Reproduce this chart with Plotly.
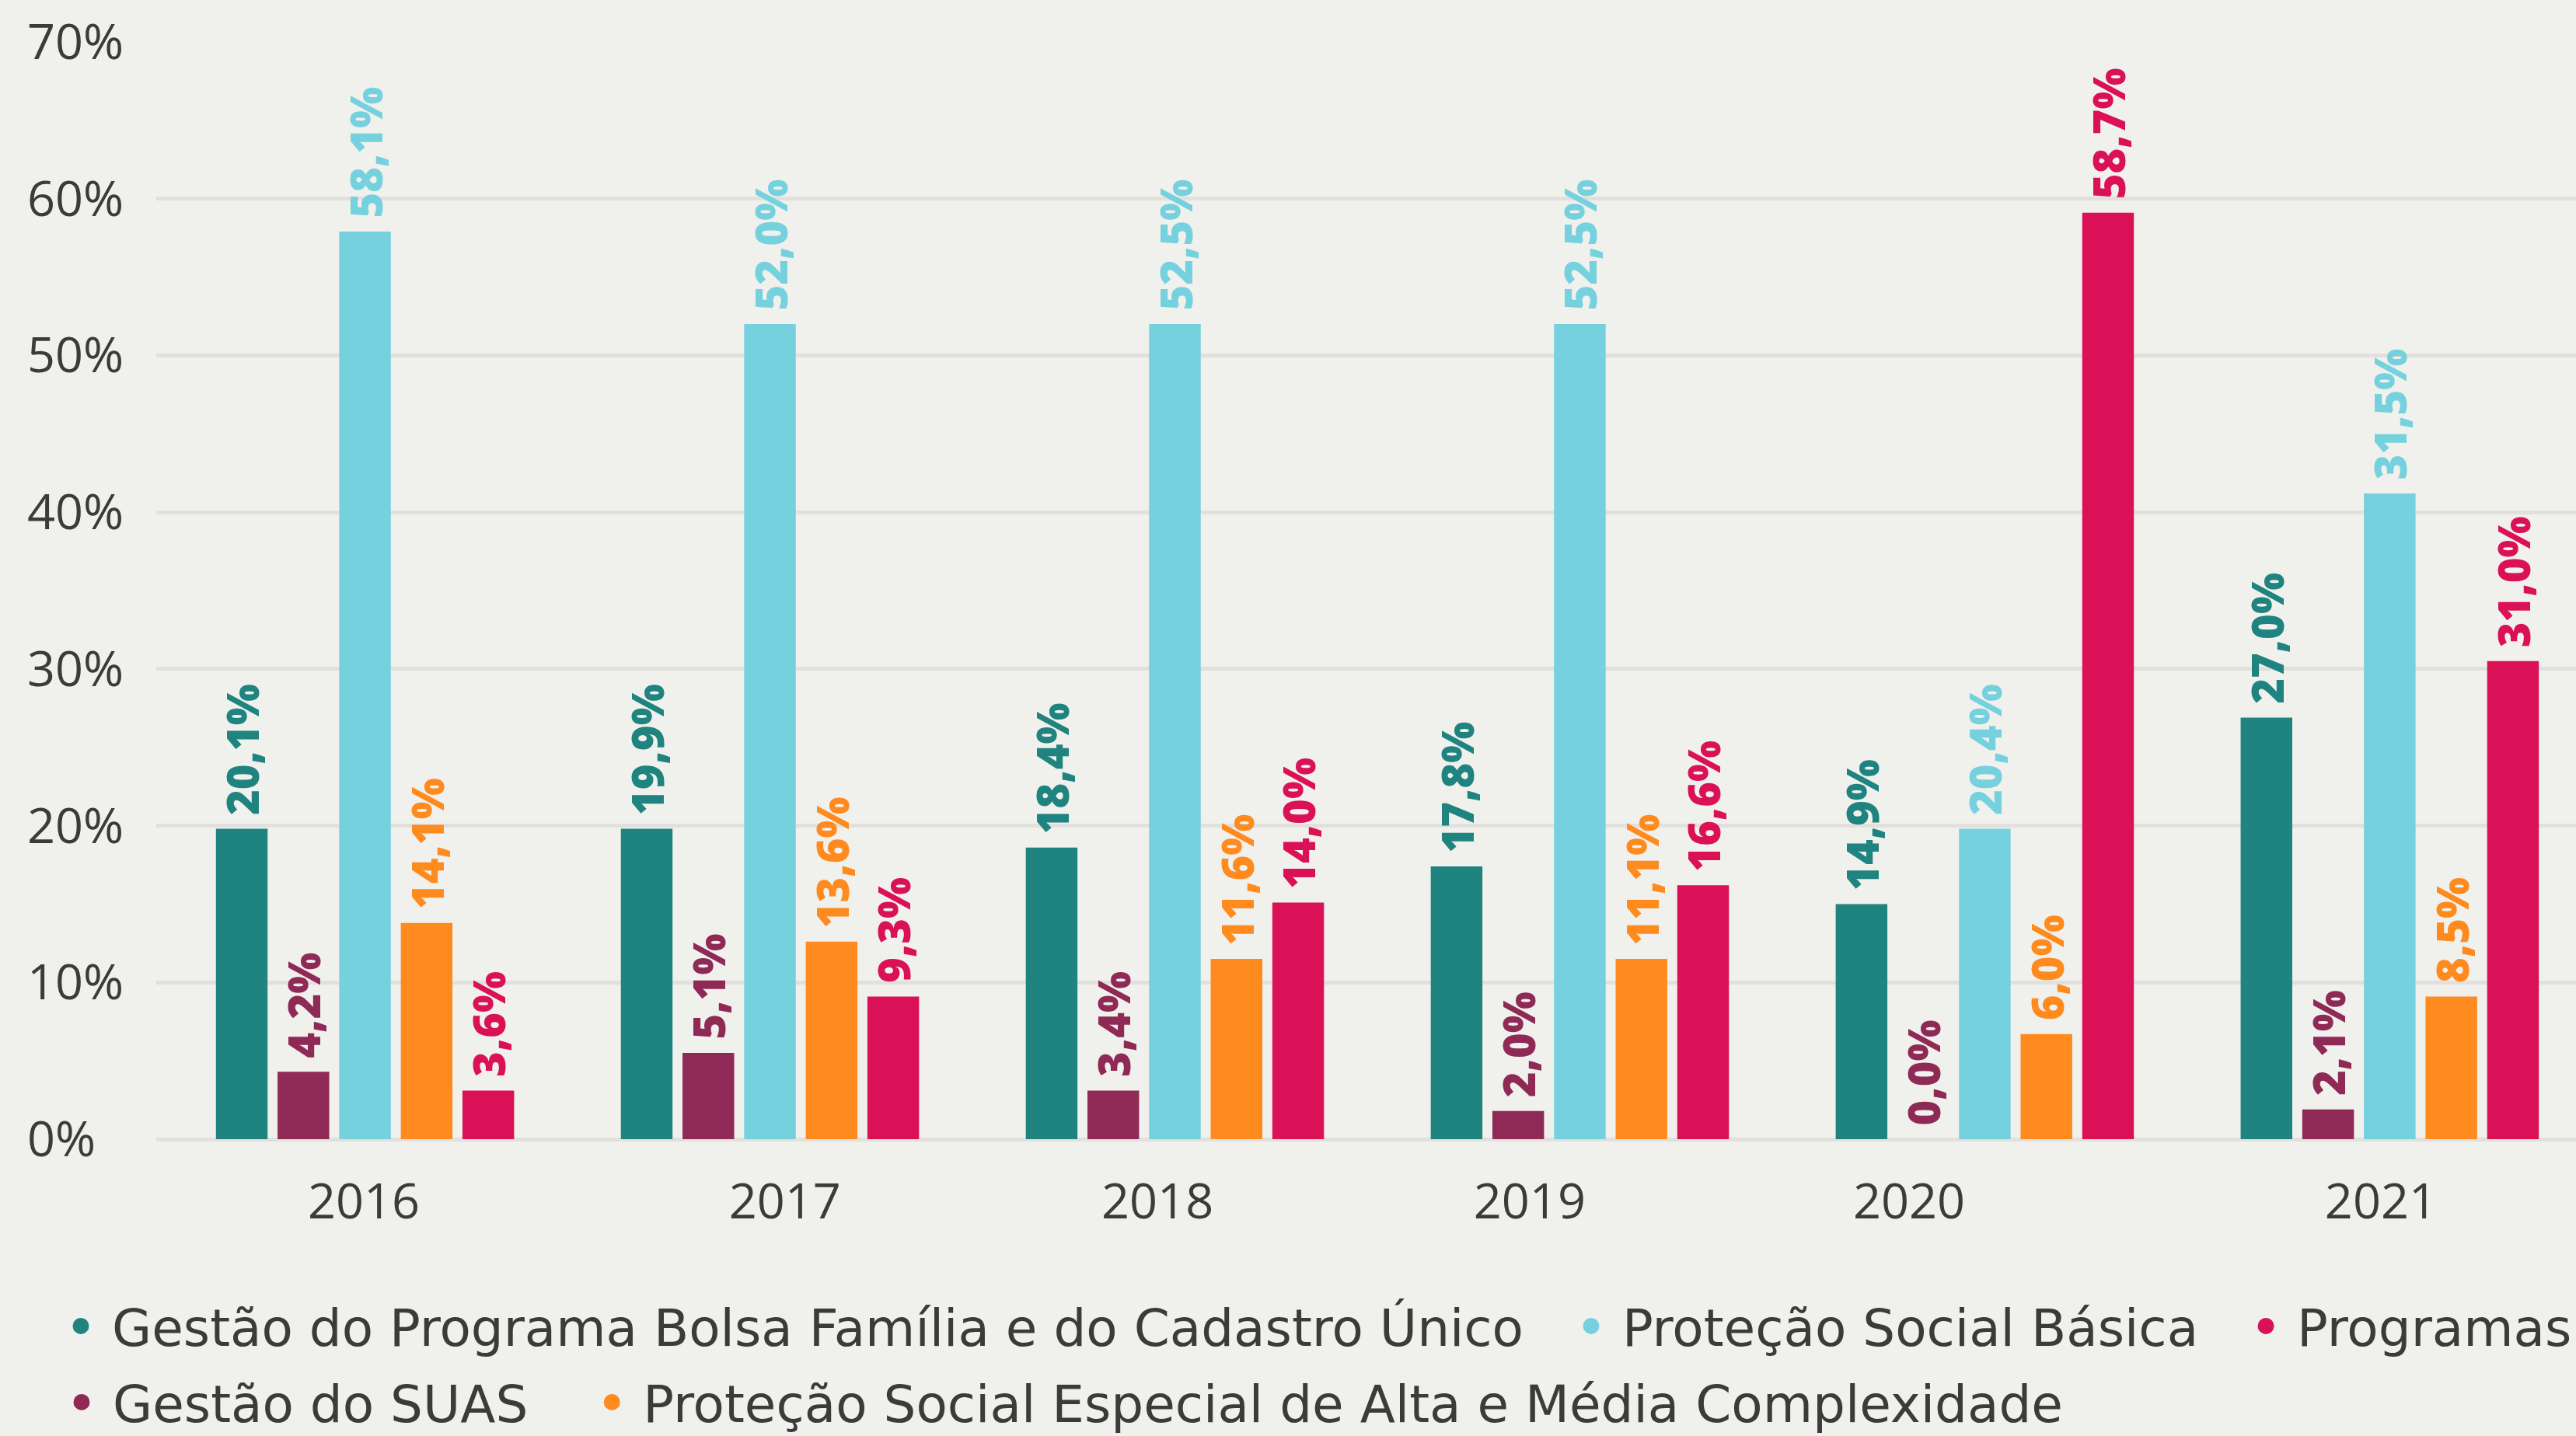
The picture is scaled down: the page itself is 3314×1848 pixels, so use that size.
import plotly.graph_objects as go

# ---------------- data ----------------
years = ["2016", "2017", "2018", "2019", "2020", "2021"]

name_pbf = "Gestão do Programa Bolsa Família e do Cadastro Único"
name_suas = "Gestão do SUAS"
name_basica = "Proteção Social Básica"
name_especial = "Proteção Social Especial de Alta e Média Complexidade"
name_programas = "Programas"

# bar heights as drawn (%)
gestao_pbf = [19.8, 19.8, 18.6, 17.4, 15.0, 26.9]
gestao_suas = [4.3, 5.5, 3.1, 1.8, 0.0, 1.9]
protecao_basica = [57.9, 52.0, 52.0, 52.0, 19.8, 41.2]
protecao_especial = [13.8, 12.6, 11.5, 11.5, 6.7, 9.1]
programas = [3.1, 9.1, 15.1, 16.2, 59.1, 30.5]

# data labels as printed
labels_pbf = ["20,1%", "19,9%", "18,4%", "17,8%", "14,9%", "27,0%"]
labels_suas = ["4,2%", "5,1%", "3,4%", "2,0%", "0,0%", "2,1%"]
labels_basica = ["58,1%", "52,0%", "52,5%", "52,5%", "20,4%", "31,5%"]
labels_especial = ["14,1%", "13,6%", "11,6%", "11,1%", "6,0%", "8,5%"]
labels_programas = ["3,6%", "9,3%", "14,0%", "16,6%", "58,7%", "31,0%"]

y_tick_values = [0, 10, 20, 30, 40, 50, 60, 70]
y_tick_labels = ["0%", "10%", "20%", "30%", "40%", "50%", "60%", "70%"]

# ---------------- styles ----------------
C_PBF = "#1f837f"
C_SUAS = "#8f2a56"
C_BASICA = "#76d1df"
C_ESPECIAL = "#ff8a1e"
C_PROG = "#da1157"
TEXT = "#3d3b39"
BG = "#f0f0ec"
GRID = "#e1e0dd"
FONT = "Open Sans"
LEG_FONT = "DejaVu Sans"

W, H = 3314, 1848
X_RANGE = [-0.5156, 5.46]
year_label_pos = [-0.003, 1.037, 1.957, 2.876, 3.813, 4.978]

fig = go.Figure()

bar_series = [
    (name_pbf, gestao_pbf, labels_pbf, C_PBF),
    (name_suas, gestao_suas, labels_suas, C_SUAS),
    (name_basica, protecao_basica, labels_basica, C_BASICA),
    (name_especial, protecao_especial, labels_especial, C_ESPECIAL),
    (name_programas, programas, labels_programas, C_PROG),
]

for name, vals, labs, col in bar_series:
    fig.add_trace(go.Bar(
        x=years, y=vals, name=name,
        marker=dict(color=col, line=dict(width=0)),
        text=["\u00a0" + t for t in labs],
        textposition="outside",
        textangle=-90,
        constraintext="none",
        cliponaxis=False,
        textfont=dict(family=FONT, size=56, color=col, weight=800),
        showlegend=False,
        hoverinfo="skip",
    ))

# legend entries (circle markers), split in two rows like the reference
legend_rows = [
    (name_pbf, C_PBF, "legend", 2),
    (name_basica, C_BASICA, "legend", 2),
    (name_programas, C_PROG, "legend", 0),
    (name_suas, C_SUAS, "legend2", 3),
    (name_especial, C_ESPECIAL, "legend2", 0),
]
for name, col, leg, pad in legend_rows:
    fig.add_trace(go.Scatter(
        x=[None], y=[None], mode="markers", name=name + "\u00a0" * pad,
        marker=dict(symbol="circle", size=16, color=col, line=dict(color=col, width=5)),
        xaxis="x2", yaxis="y2", legend=leg, showlegend=True, hoverinfo="skip",
    ))

legend_common = dict(
    orientation="h", xanchor="left", yanchor="top", yref="container",
    font=dict(family=LEG_FONT, size=66, color=TEXT),
    bgcolor="rgba(0,0,0,0)", borderwidth=0, itemwidth=70,
    itemclick=False, itemdoubleclick=False,
)

fig.update_layout(
    width=W, height=H,
    margin=dict(l=0, r=0, t=54, b=382, pad=0),
    paper_bgcolor=BG, plot_bgcolor=BG,
    barmode="group", bargap=0.239, bargroupgap=0.162,
    font=dict(family=FONT, color=TEXT),
    xaxis=dict(
        domain=[201 / W, 1], range=X_RANGE, type="category",
        showticklabels=False, showgrid=False, zeroline=False, showline=False, ticks="",
    ),
    xaxis2=dict(
        overlaying="x", anchor="y", side="bottom", range=X_RANGE,
        tickmode="array", tickvals=year_label_pos, ticktext=years,
        tickfont=dict(family=FONT, size=63, color=TEXT),
        showgrid=False, zeroline=False, showline=False, ticks="",
        ticklabelstandoff=38,
    ),
    yaxis=dict(
        range=[0, 70], tickmode="array", tickvals=y_tick_values,
        showticklabels=False, showgrid=True, gridcolor=GRID, gridwidth=5,
        zeroline=True, zerolinecolor=GRID, zerolinewidth=5, showline=False, ticks="",
    ),
    yaxis2=dict(
        overlaying="y", anchor="free", position=31 / W, side="left",
        range=[0, 70], tickmode="array", tickvals=y_tick_values, ticktext=y_tick_labels,
        ticklabelposition="inside", ticklabeloverflow="allow",
        tickfont=dict(family=FONT, size=63, color=TEXT),
        showgrid=False, zeroline=False, showline=False, ticks="",
    ),
    legend=dict(x=65 / W, y=1 - 1657 / H, **legend_common),
    legend2=dict(x=65 / W, y=1 - 1755 / H, **legend_common),
)

fig.write_html(
    "out.html",
    config={"displayModeBar": False},
    post_script="document.body.style.margin='0';document.body.style.overflow='hidden';",
)
